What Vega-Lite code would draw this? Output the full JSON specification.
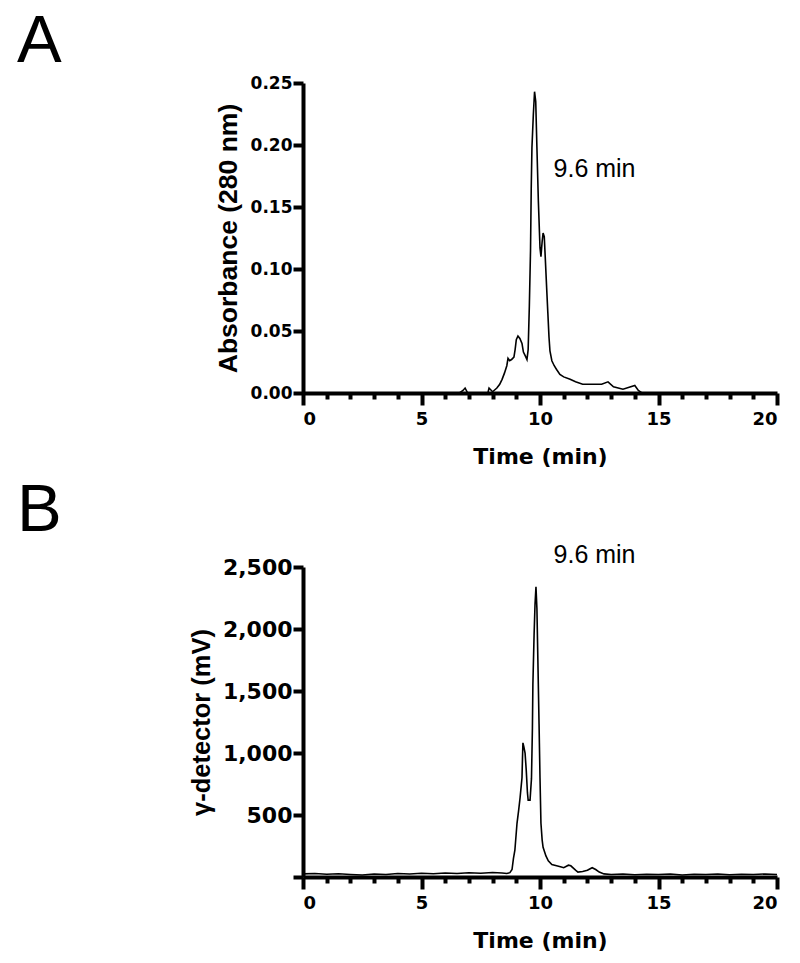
{
  "$schema": "https://vega.github.io/schema/vega-lite/v6.json",
  "padding": {"left": 17, "top": 8, "right": 5, "bottom": 5},
  "background": "white",
  "config": {
    "view": {"stroke": null},
    "axis": {"grid": false, "domainColor": "black", "tickColor": "black", "labelColor": "black", "titleColor": "black"}
  },
  "spacing": 10,
  "datasets": {
    "a": [
      {"t": 0, "v": 0}, {"t": 6.6, "v": 0}, {"t": 6.75, "v": 0.002}, {"t": 6.84, "v": 0.004}, {"t": 6.95, "v": 0},
      {"t": 7.8, "v": 0}, {"t": 7.85, "v": 0.004}, {"t": 8.0, "v": 0.001}, {"t": 8.18, "v": 0.004}, {"t": 8.3, "v": 0.007},
      {"t": 8.4, "v": 0.011}, {"t": 8.5, "v": 0.016}, {"t": 8.6, "v": 0.022}, {"t": 8.65, "v": 0.028}, {"t": 8.72, "v": 0.026},
      {"t": 8.8, "v": 0.027}, {"t": 8.9, "v": 0.029}, {"t": 8.95, "v": 0.035}, {"t": 9.0, "v": 0.043}, {"t": 9.07, "v": 0.046},
      {"t": 9.15, "v": 0.044}, {"t": 9.24, "v": 0.04}, {"t": 9.3, "v": 0.033}, {"t": 9.38, "v": 0.03}, {"t": 9.45, "v": 0.027},
      {"t": 9.5, "v": 0.035}, {"t": 9.55, "v": 0.07}, {"t": 9.6, "v": 0.115}, {"t": 9.63, "v": 0.165}, {"t": 9.66, "v": 0.198},
      {"t": 9.72, "v": 0.225}, {"t": 9.77, "v": 0.243}, {"t": 9.82, "v": 0.235}, {"t": 9.87, "v": 0.198}, {"t": 9.93, "v": 0.155},
      {"t": 10.0, "v": 0.117}, {"t": 10.04, "v": 0.11}, {"t": 10.09, "v": 0.122}, {"t": 10.13, "v": 0.129}, {"t": 10.18, "v": 0.126},
      {"t": 10.22, "v": 0.11}, {"t": 10.28, "v": 0.085}, {"t": 10.33, "v": 0.065}, {"t": 10.38, "v": 0.045}, {"t": 10.42, "v": 0.034},
      {"t": 10.5, "v": 0.026}, {"t": 10.6, "v": 0.022}, {"t": 10.7, "v": 0.019}, {"t": 10.84, "v": 0.015}, {"t": 11.0, "v": 0.013},
      {"t": 11.27, "v": 0.011}, {"t": 11.5, "v": 0.009}, {"t": 11.8, "v": 0.007}, {"t": 12.3, "v": 0.007}, {"t": 12.6, "v": 0.007},
      {"t": 12.87, "v": 0.009}, {"t": 13.1, "v": 0.005}, {"t": 13.5, "v": 0.003}, {"t": 14.0, "v": 0.006}, {"t": 14.15, "v": 0.002},
      {"t": 14.3, "v": 0}, {"t": 20, "v": 0}
    ],
    "b": [
      {"t": 0, "v": 25}, {"t": 0.5, "v": 28}, {"t": 1.0, "v": 22}, {"t": 1.5, "v": 26}, {"t": 2.0, "v": 20}, {"t": 2.5, "v": 16},
      {"t": 3.0, "v": 24}, {"t": 3.5, "v": 20}, {"t": 4.0, "v": 28}, {"t": 4.5, "v": 24}, {"t": 5.0, "v": 30}, {"t": 5.5, "v": 26},
      {"t": 6.0, "v": 32}, {"t": 6.5, "v": 28}, {"t": 7.0, "v": 34}, {"t": 7.5, "v": 30}, {"t": 8.0, "v": 36}, {"t": 8.4, "v": 32},
      {"t": 8.6, "v": 28}, {"t": 8.73, "v": 35}, {"t": 8.82, "v": 60}, {"t": 8.88, "v": 150}, {"t": 8.94, "v": 216}, {"t": 9.03, "v": 433},
      {"t": 9.1, "v": 540}, {"t": 9.16, "v": 640}, {"t": 9.24, "v": 800}, {"t": 9.26, "v": 950}, {"t": 9.28, "v": 1082},
      {"t": 9.32, "v": 1050}, {"t": 9.37, "v": 1000}, {"t": 9.42, "v": 860}, {"t": 9.47, "v": 680}, {"t": 9.5, "v": 620},
      {"t": 9.58, "v": 620}, {"t": 9.64, "v": 793}, {"t": 9.68, "v": 1200}, {"t": 9.7, "v": 1555}, {"t": 9.75, "v": 1950},
      {"t": 9.79, "v": 2200}, {"t": 9.83, "v": 2340}, {"t": 9.87, "v": 2165}, {"t": 9.92, "v": 1650}, {"t": 9.96, "v": 1234},
      {"t": 10.0, "v": 800}, {"t": 10.04, "v": 433}, {"t": 10.09, "v": 300}, {"t": 10.13, "v": 240}, {"t": 10.25, "v": 170},
      {"t": 10.35, "v": 130}, {"t": 10.5, "v": 100}, {"t": 10.7, "v": 90}, {"t": 10.9, "v": 80}, {"t": 11.0, "v": 75},
      {"t": 11.2, "v": 95}, {"t": 11.3, "v": 90}, {"t": 11.5, "v": 55}, {"t": 11.6, "v": 40}, {"t": 11.8, "v": 45},
      {"t": 12.0, "v": 55}, {"t": 12.2, "v": 75}, {"t": 12.35, "v": 60}, {"t": 12.5, "v": 40}, {"t": 12.7, "v": 25},
      {"t": 13.0, "v": 20}, {"t": 13.5, "v": 24}, {"t": 14.0, "v": 18}, {"t": 14.5, "v": 22}, {"t": 15.0, "v": 20},
      {"t": 15.5, "v": 24}, {"t": 16, "v": 16}, {"t": 16.5, "v": 22}, {"t": 17, "v": 20}, {"t": 17.5, "v": 24},
      {"t": 18, "v": 18}, {"t": 18.5, "v": 22}, {"t": 19, "v": 20}, {"t": 19.5, "v": 24}, {"t": 20, "v": 20}
    ],
    "la": [{"t": 12.3, "v": 0.181, "label": "9.6 min"}],
    "lb": [{"t": 12.3, "v": 2596, "label": "9.6 min"}]
  },
  "vconcat": [
    {
      "title": {"text": "A", "anchor": "start", "frame": "group", "font": "Liberation Sans", "fontSize": 67, "fontWeight": "normal", "color": "black", "dx": -286, "offset": -55, "baseline": "alphabetic"},
      "width": 474,
      "height": 310,
      "encoding": {
        "y": {"field": "v", "type": "quantitative", "scale": {"domain": [0, 0.25], "nice": false},
          "axis": {"values": [0, 0.05, 0.1, 0.15, 0.2, 0.25], "format": ".2f", "title": "Absorbance (280 nm)",
            "labelFont": "DejaVu Sans", "labelFontWeight": "bold", "labelFontSize": 17, "labelPadding": 1,
            "tickSize": 10, "tickWidth": 4, "domainWidth": 4,
            "titleFont": "Liberation Sans", "titleFontWeight": "bold", "titleFontSize": 26.5, "titlePadding": 8}}
      },
      "layer": [
        {
          "data": {"name": "a"},
          "mark": {"type": "line", "color": "black", "strokeWidth": 1.6},
          "encoding": {
            "x": {"field": "t", "type": "quantitative", "scale": {"domain": [0, 20], "nice": false},
              "axis": {"orient": "bottom", "values": [0, 5, 10, 15, 20], "title": "Time (min)",
                "labelFont": "DejaVu Sans", "labelFontWeight": "bold", "labelFontSize": 18, "labelPadding": 5,
                "tickSize": 12, "tickWidth": 4, "domainWidth": 4,
                "titleFont": "DejaVu Sans", "titleFontWeight": "bold", "titleFontSize": 22, "titlePadding": 18}}
          }
        },
        {
          "data": {"name": "la"},
          "mark": {"type": "text", "font": "Liberation Sans", "fontSize": 25, "align": "center", "baseline": "middle", "color": "black"},
          "encoding": {
            "x": {"field": "t", "type": "quantitative",
              "axis": {"orient": "bottom", "values": [1, 2, 3, 4, 6, 7, 8, 9, 11, 12, 13, 14, 16, 17, 18, 19], "labels": false, "domain": false, "title": null, "tickSize": 6, "tickWidth": 4}},
            "text": {"field": "label"}
          }
        }
      ],
      "resolve": {"axis": {"x": "independent"}}
    },
    {
      "title": {"text": "B", "anchor": "start", "frame": "group", "font": "Liberation Sans", "fontSize": 67, "fontWeight": "normal", "color": "black", "dx": -286, "offset": -55, "baseline": "alphabetic"},
      "width": 474,
      "height": 310,
      "encoding": {
        "y": {"field": "v", "type": "quantitative", "scale": {"domain": [0, 2500], "nice": false},
          "axis": {"values": [0, 500, 1000, 1500, 2000, 2500], "format": ",d", "labelExpr": "datum.value === 0 ? '' : datum.label", "title": "γ-detector (mV)",
            "labelFont": "DejaVu Sans", "labelFontWeight": "bold", "labelFontSize": 22, "labelPadding": 1,
            "tickSize": 10, "tickWidth": 4, "domainWidth": 4,
            "titleFont": "Liberation Sans", "titleFontWeight": "bold", "titleFontSize": 25.5, "titlePadding": 8}}
      },
      "layer": [
        {
          "data": {"name": "b"},
          "mark": {"type": "line", "color": "black", "strokeWidth": 1.6},
          "encoding": {
            "x": {"field": "t", "type": "quantitative", "scale": {"domain": [0, 20], "nice": false},
              "axis": {"orient": "bottom", "values": [0, 5, 10, 15, 20], "title": "Time (min)",
                "labelFont": "DejaVu Sans", "labelFontWeight": "bold", "labelFontSize": 18, "labelPadding": 5,
                "tickSize": 12, "tickWidth": 4, "domainWidth": 4,
                "titleFont": "DejaVu Sans", "titleFontWeight": "bold", "titleFontSize": 22, "titlePadding": 18}}
          }
        },
        {
          "data": {"name": "lb"},
          "mark": {"type": "text", "font": "Liberation Sans", "fontSize": 25, "align": "center", "baseline": "middle", "color": "black"},
          "encoding": {
            "x": {"field": "t", "type": "quantitative",
              "axis": {"orient": "bottom", "values": [1, 2, 3, 4, 6, 7, 8, 9, 11, 12, 13, 14, 16, 17, 18, 19], "labels": false, "domain": false, "title": null, "tickSize": 6, "tickWidth": 4}},
            "text": {"field": "label"}
          }
        }
      ],
      "resolve": {"axis": {"x": "independent"}}
    }
  ]
}
